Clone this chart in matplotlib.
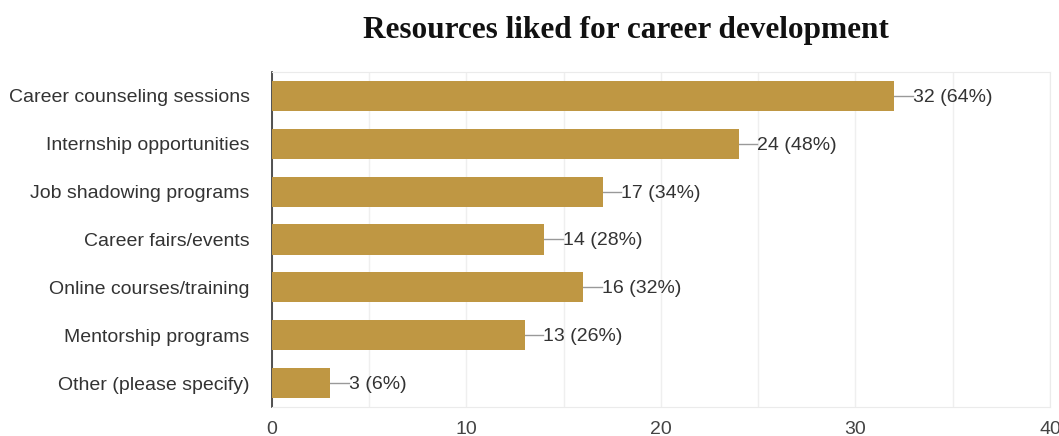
import matplotlib.pyplot as plt

categories = ['Career counseling sessions', 'Internship opportunities', 'Job shadowing programs',
              'Career fairs/events', 'Online courses/training', 'Mentorship programs',
              'Other (please specify)']
counts = [32, 24, 17, 14, 16, 13, 3]
percents = [64, 48, 34, 28, 32, 26, 6]

fig = plt.figure(figsize=(10.59, 4.36), dpi=100)
ax = fig.add_axes([0.2568, 0.0665, 0.7347, 0.7684])

y = list(range(len(categories)))
ax.barh(y, counts, height=0.63, color='#bf9743', zorder=3)

for yi, c, p in zip(y, counts, percents):
    ax.plot([c, c + 0.95], [yi, yi], color='#999999', lw=1, zorder=2)
    ax.text(c + 0.95, yi + 0.03, f'{c} ({p}%)', va='center', ha='left', fontsize=14,
            color='#333333', family='Liberation Sans')

ax.set_xlim(0, 40)
ax.set_ylim(6.5, -0.5)
ax.set_yticks(y)
ax.set_yticklabels(categories, fontsize=14, color='#333333', family='Liberation Sans')
ax.set_xticks([0, 10, 20, 30, 40])
ax.set_xticks([5, 15, 25, 35], minor=True)
ax.tick_params(axis='x', which='both', length=0, pad=10, labelsize=14, labelcolor='#444444')
ax.tick_params(axis='y', length=0, pad=16)
for lab in ax.get_xticklabels():
    lab.set_family('Liberation Sans')
ax.grid(axis='x', which='both', color='#efefef', lw=1, zorder=0)

for s in ['top', 'right', 'bottom']:
    ax.spines[s].set_color('#ebebeb')
ax.spines['left'].set_color('#333333')
ax.spines['left'].set_linewidth(1.2)

fig.text(0.591, 0.93, 'Resources liked for career development', ha='center', va='center',
         fontsize=22.5, fontweight='bold', family='Liberation Serif', color='#111111')

fig.savefig('out.png', dpi=100)
